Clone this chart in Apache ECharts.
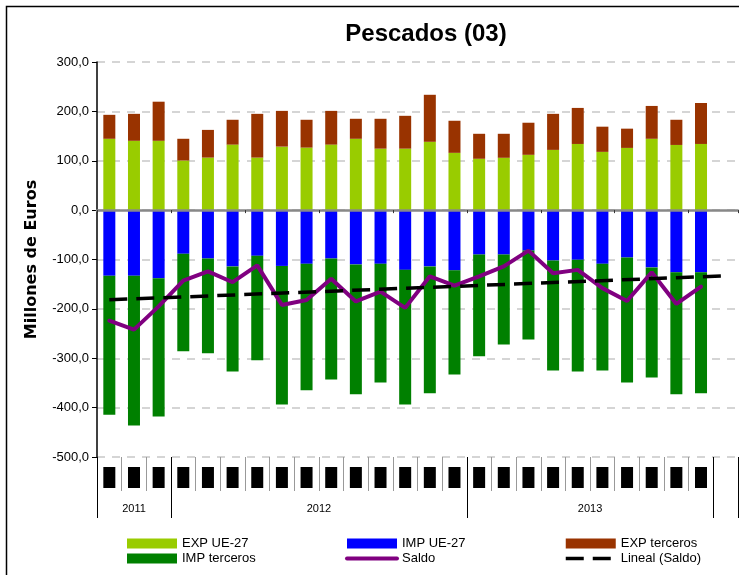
<!DOCTYPE html>
<html><head><meta charset="utf-8">
<script src="https://cdn.jsdelivr.net/npm/echarts@6/dist/echarts.min.js"></script>
<style>html,body{margin:0;padding:0;background:#fff}#c{width:739px;height:575px}</style>
</head><body><div id="c"></div>
<script>
const categories = ['oct-11','nov-11','dic-11','ene-12','feb-12','mar-12','abr-12','may-12','jun-12','jul-12','ago-12','sep-12','oct-12','nov-12','dic-12','ene-13','feb-13','mar-13','abr-13','may-13','jun-13','jul-13','ago-13','sep-13','oct-13',''];
const years = ['2011','2012','2013'];
const monthsPerYear = [3,12,10];
const expUE = [144.5,140.4,140.4,100.4,106.4,132.7,106.4,128.6,126.6,132.7,144.5,124.5,124.5,138.4,116,104,106,112,122,134,118,126,144.5,132,134];
const expTerceros = [48.5,54.6,79.2,44.1,56.1,50.3,88.6,72.4,56.4,68.3,40.5,60.5,66.5,95.2,65,50.6,48.6,65,73,73,51,39,66.5,51,83];
const impUE = [-133,-133,-138,-88.4,-98,-114,-92.5,-113,-108.7,-98,-110,-108.7,-121,-114,-122,-90,-90,-82,-102,-100.6,-108.7,-96,-116,-126,-126];
const impTerceros = [-281.5,-303,-280,-197.6,-192,-213,-211.5,-280.5,-256.3,-245,-263,-240.3,-272.5,-257,-211,-206,-182,-180,-223,-226.4,-216.3,-253,-223,-247,-245];
const saldo = [-224,-242,-195,-143,-124,-146,-112,-192,-182,-139,-185,-165,-198,-134,-153,-134,-114,-82,-128,-121,-158,-184,-126,-190,-155];
const linealEnds = [-181.6,-133];
const yTicks = {min:-500, max:300, step:100};

const lineal = categories.map(() => null);
lineal[0] = linealEnds[0];
lineal[categories.length - 1] = linealEnds[1];

const bounds = [0];
monthsPerYear.forEach(n => bounds.push(bounds[bounds.length-1] + n));
const yearCenters = years.map((y,i) => (bounds[i] + bounds[i+1]) / 2);
const tickVals = bounds.concat([categories.length]);

const sans = "'Liberation Sans',Arial,sans-serif";
const chart = echarts.init(document.getElementById('c'), null, {renderer:'canvas'});
chart.setOption({
  animation:false,
  backgroundColor:'#fff',
  graphic:[{type:'rect', shape:{x:6.5,y:6.5,width:900,height:900}, style:{fill:'none', stroke:'#000', lineWidth:1.5}, silent:true, z:-1}],
  title:{text:'Pescados (03)', left:421, top:17, textAlign:'center',
    textStyle:{fontFamily:sans, fontWeight:'bold', fontSize:24, color:'#000'}},
  legend:[
    {data:[{name:'EXP UE-27', icon:'rect'},{name:'IMP terceros', icon:'rect'}], left:127},
    {data:[{name:'IMP UE-27', icon:'rect'},{name:'Saldo', itemStyle:{opacity:0}, lineStyle:{width:4, color:'#800080', cap:'round'}}], left:345},
    {data:[{name:'EXP terceros', icon:'rect'},{name:'Lineal (Saldo)', itemStyle:{opacity:0}, lineStyle:{width:3.5, color:'#000', type:[18,9]}}], left:564}
  ].map(l => Object.assign(l, {orient:'vertical', top:536, padding:0, itemGap:0, itemWidth:50, itemHeight:10,
    textStyle:{fontFamily:sans, fontSize:13, color:'#000', lineHeight:15}})),
  grid:{left:97, right:1, top:62, bottom:118, containLabel:false},
  xAxis:[
    {type:'category', data:categories, axisLine:{onZero:true, lineStyle:{color:'#888', width:2.5}},
     axisTick:{show:true, length:3, lineStyle:{color:'#333'}}, axisLabel:{show:false}, splitLine:{show:false}, z:3},
    {type:'category', data:categories, position:'bottom', axisLine:{show:false, onZero:false},
     axisTick:{show:true, interval:0, length:34, lineStyle:{color:'#999', width:1}},
     axisLabel:{interval:0, margin:10, formatter: v => v ? '{b|' + v.charAt(0).toUpperCase() + '}' : '',
       rich:{b:{backgroundColor:'#000', color:'#000', padding:[5,2], width:8, align:'center', fontSize:11}}}},
    {type:'value', min:0, max:categories.length, position:'bottom', axisLine:{show:false, onZero:false}, splitLine:{show:false},
     axisTick:{show:true, customValues:tickVals, length:61, lineStyle:{color:'#000', width:1}},
     axisLabel:{customValues:yearCenters, margin:46, fontSize:11, color:'#000', fontFamily:sans,
       formatter: v => { const i = yearCenters.indexOf(v); return i >= 0 ? years[i] : ''; }}}
  ],
  yAxis:{type:'value', min:yTicks.min, max:yTicks.max, interval:yTicks.step,
    name:'Millones de Euros', nameLocation:'middle', nameGap:57,
    nameTextStyle:{fontFamily:"'DejaVu Sans',sans-serif", fontWeight:'bold', fontSize:16, color:'#000'},
    axisLine:{show:true, lineStyle:{color:'#000', width:1.5}},
    axisTick:{show:true, length:5, lineStyle:{color:'#000'}},
    axisLabel:{margin:8, fontSize:13, color:'#000', fontFamily:sans,
      formatter: v => v.toFixed(1).replace('.', ',')},
    splitLine:{show:true, lineStyle:{color:'#c8c8c8', type:[8,7], width:1.5}}},
  series:[
    {name:'EXP UE-27', type:'bar', stack:'all', data:expUE, barWidth:12, itemStyle:{color:'#99CC00'}},
    {name:'IMP UE-27', type:'bar', stack:'all', data:impUE, barWidth:12, itemStyle:{color:'#0000FF'}},
    {name:'EXP terceros', type:'bar', stack:'all', data:expTerceros, barWidth:12, itemStyle:{color:'#993300'}},
    {name:'IMP terceros', type:'bar', stack:'all', data:impTerceros, barWidth:12, itemStyle:{color:'#008000'}},
    {name:'Saldo', type:'line', data:saldo, symbol:'none', lineStyle:{color:'#800080', width:4, cap:'round'}, itemStyle:{color:'#800080'}, z:5},
    {name:'Lineal (Saldo)', type:'line', data:lineal, connectNulls:true, symbol:'none',
     lineStyle:{color:'#000', width:3.5, type:[18,9]}, itemStyle:{color:'#000'}, z:6}
  ]
});
</script></body></html>
